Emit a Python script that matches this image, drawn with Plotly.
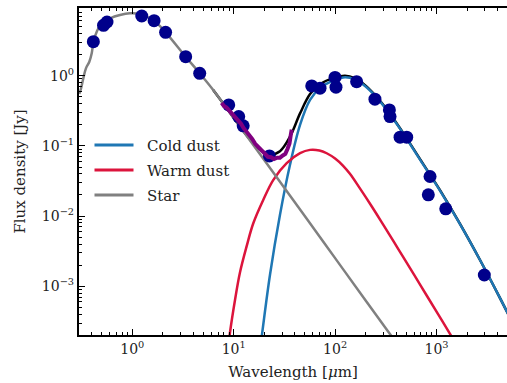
import plotly.graph_objects as go

# ---------------- data ----------------
obs_wl = [0.413, 0.52, 0.563, 1.24, 1.64, 2.13, 3.36, 4.62, 8.93, 11.2, 12.4, 22.5,
          58.8, 71.0, 99.8, 102.0, 163.0, 247.0, 343.0, 348.0, 437.0, 508.0,
          863.0, 830.0, 1233.0, 2960.0]
obs_flux = [3.04, 5.2, 5.8, 7.06, 6.06, 4.14, 1.86, 1.08, 0.383, 0.261, 0.193, 0.072,
            0.714, 0.662, 0.943, 0.684, 0.82, 0.462, 0.325, 0.261, 0.133, 0.133,
            0.0366, 0.0201, 0.0127, 0.00145]

star_wl = [0.30, 0.31, 0.329, 0.349, 0.377, 0.398, 0.413, 0.446, 0.499, 0.603, 0.756,
           0.949, 1.19, 1.64, 2.13, 3.36, 4.62, 6.25, 10.0, 20.0, 50.0, 100.0, 200.0, 400.0]
star_flux = [0.55, 0.63, 0.92, 1.27, 1.58, 2.08, 3.0, 4.23, 5.56, 6.55, 7.3,
             7.72, 7.55, 6.06, 4.14, 1.86, 1.08, 0.63, 0.25, 0.063, 0.0101, 0.00252,
             0.00063, 0.000158]

warm_wl = [8.8, 9.19, 10.3, 11.5, 13.4, 15.6, 19.6, 24.6, 33.3, 45.1, 56.6, 70.0, 82.6,
           100.0, 120.0, 140.0, 175.0, 230.0, 299.0, 380.0, 470.0, 600.0, 800.0, 1050.0,
           1358.0, 1500.0]
warm_flux = [0.00013, 0.00022, 0.00064, 0.00155, 0.0037, 0.0079, 0.0171, 0.0328, 0.0567,
             0.0788, 0.0877, 0.086, 0.0785, 0.066, 0.052, 0.040, 0.025, 0.0137, 0.0075,
             0.0043, 0.0026, 0.00147, 0.00074, 0.00039, 0.00021, 0.000166]

cold_wl = [17.4, 19.0, 22.8, 28.6, 35.9, 45.1, 56.6, 71.0, 99.8, 125.2, 157.1, 197.2,
           247.5, 310.6, 436.5, 687.6, 1082.0, 1705.0, 2685.0, 4229.0, 5307.0]
cold_flux = [0.000077, 0.000205, 0.00146, 0.01044, 0.0537, 0.199, 0.451, 0.668, 0.869,
             0.949, 0.882, 0.712, 0.518, 0.350, 0.1757, 0.0636, 0.02305, 0.00769,
             0.00237, 0.00068, 0.000357]

total_wl = [6.25, 8.0, 10.0, 12.0, 15.6, 19.0, 22.8, 28.6, 35.9, 45.1, 56.6, 71.0, 99.8,
            125.2, 157.1, 197.2, 247.5, 310.6, 436.5, 687.6, 1082.0, 1705.0, 2685.0,
            4229.0, 5307.0]
total_flux = [0.63, 0.39, 0.25, 0.173, 0.109, 0.085, 0.0755, 0.084, 0.135, 0.29, 0.546,
              0.759, 0.9375, 0.999, 0.915, 0.732, 0.529, 0.357, 0.1785, 0.0647, 0.0234,
              0.00775, 0.00237, 0.00068, 0.000357]

spec_wl = [7.6, 8.0, 8.5, 9.0, 9.5, 10.0, 10.6, 11.2, 11.8, 12.5, 13.3, 14.2, 15.2, 16.3,
           17.5, 18.8, 20.2, 21.7, 23.3, 25.0, 26.8, 28.6, 30.5, 32.3, 34.0, 35.5, 36.5, 37.3]
spec_flux = [0.41, 0.37, 0.35, 0.32, 0.30, 0.272, 0.252, 0.224, 0.207, 0.18, 0.162, 0.139,
             0.126, 0.107, 0.096, 0.084, 0.077, 0.070, 0.069, 0.065, 0.068, 0.068, 0.073,
             0.077, 0.091, 0.108, 0.142, 0.17]

x_tick_vals = [1, 10, 100, 1000]
x_tick_text = ["10<sup>0</sup>", "10<sup>1</sup>", "10<sup>2</sup>", "10<sup>3</sup>"]
y_tick_vals = [0.001, 0.01, 0.1, 1]
y_tick_text = ["10<sup>−3</sup>", "10<sup>−2</sup>", "10<sup>−1</sup>", "10<sup>0</sup>"]

legend_names = ["Cold dust", "Warm dust", "Star"]
legend_colors = ["#1f77b4", "#dc143c", "#808080"]

# ---------------- figure ----------------
FONT = "DejaVu Serif"
INK = "#222222"
FIG_W, FIG_H = 507, 383
L, T, W, H = 79, 8, 428, 327

fig = go.Figure()
fig.add_trace(go.Scatter(x=total_wl, y=total_flux, mode="lines",
                         line=dict(color="black", width=2.5, shape="spline"),
                         showlegend=False))
fig.add_trace(go.Scatter(x=cold_wl, y=cold_flux, mode="lines", name="Cold dust",
                         line=dict(color=legend_colors[0], width=2.5, shape="spline"),
                         showlegend=False))
fig.add_trace(go.Scatter(x=warm_wl, y=warm_flux, mode="lines", name="Warm dust",
                         line=dict(color=legend_colors[1], width=2.5, shape="spline"),
                         showlegend=False))
fig.add_trace(go.Scatter(x=star_wl, y=star_flux, mode="lines", name="Star",
                         line=dict(color=legend_colors[2], width=2.5, shape="spline"),
                         showlegend=False))
fig.add_trace(go.Scatter(x=obs_wl, y=obs_flux, mode="markers",
                         marker=dict(color="#00008b", size=13, line=dict(width=0)),
                         showlegend=False))
fig.add_trace(go.Scatter(x=spec_wl, y=spec_flux, mode="lines",
                         line=dict(color="#800080", width=4),
                         showlegend=False))

def px(xpage):
    return (xpage - L) / W
def py(ypage):
    return (T + H - ypage) / H

for i, (name, col) in enumerate(zip(legend_names, legend_colors)):
    yc = 145 + 25 * i
    fig.add_shape(type="line", xref="paper", yref="paper",
                  x0=px(94.5), x1=px(133.5), y0=py(yc), y1=py(yc),
                  line=dict(color=col, width=3))
    fig.add_annotation(xref="paper", yref="paper", x=px(145), y=py(yc + 1),
                       text=name, showarrow=False, xanchor="left", yanchor="middle",
                       font=dict(family=FONT, size=15, color=INK))

def minor_vals(lo, hi):
    out = []
    for k in range(lo, hi + 1):
        for m in range(2, 10):
            out.append(m * 10 ** k)
    return out

fig.update_layout(
    width=FIG_W, height=FIG_H,
    margin=dict(l=L, r=0, t=T, b=FIG_H - T - H, autoexpand=False),
    paper_bgcolor="white", plot_bgcolor="white",
    font=dict(family=FONT, size=15, color=INK),
    xaxis=dict(type="log", range=[-0.5256, 3.695], automargin=False,
               tickvals=x_tick_vals, ticktext=x_tick_text,
               ticks="inside", ticklen=6, tickwidth=1.3, tickcolor="black",
               showline=True, linewidth=2.2, linecolor="black", mirror="ticks",
               showgrid=False, zeroline=False,
               tickfont=dict(family=FONT, size=14, color=INK),
               minor=dict(tickvals=minor_vals(-1, 3), ticks="inside", ticklen=3,
                          tickwidth=1, tickcolor="black", showgrid=False),
               title=dict(text="Wavelength [<i>μ</i>m]", standoff=11,
                          font=dict(family=FONT, size=15, color=INK))),
    yaxis=dict(type="log", range=[-3.693, 0.963], automargin=False,
               tickvals=y_tick_vals, ticktext=y_tick_text,
               ticks="inside", ticklen=6, tickwidth=1.3, tickcolor="black",
               showline=True, linewidth=2.2, linecolor="black", mirror=False,
               showgrid=False, zeroline=False,
               tickfont=dict(family=FONT, size=14, color=INK),
               minor=dict(tickvals=minor_vals(-4, 0), ticks="inside", ticklen=3,
                          tickwidth=1, tickcolor="black", showgrid=False),
               title=dict(text="Flux density [Jy]", standoff=13,
                          font=dict(family=FONT, size=15, color=INK))),
)

fig.write_html("out.html",
               config={"displayModeBar": False},
               post_script="document.body.style.margin='0';document.body.style.overflow='hidden';")
